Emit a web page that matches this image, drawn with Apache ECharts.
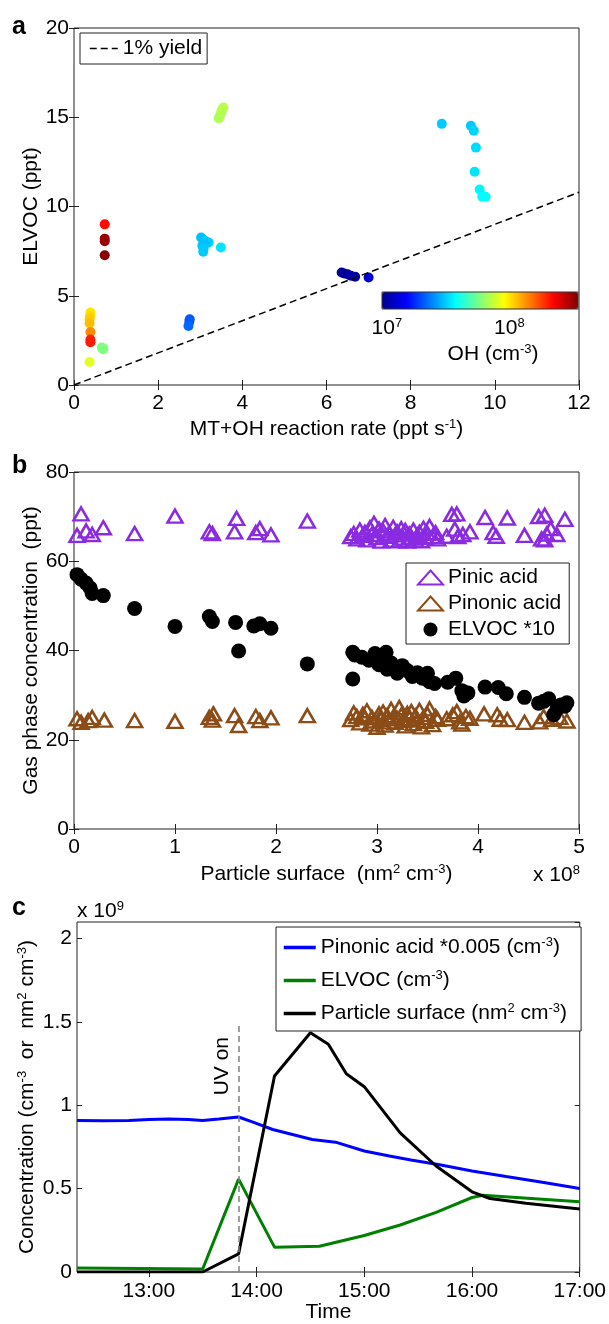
<!DOCTYPE html>
<html>
<head>
<meta charset="utf-8">
<style>
  html, body { margin: 0; padding: 0; background: #fff; }
  #chart { width: 609px; height: 1324px; }
</style>
<script src="https://cdn.jsdelivr.net/npm/echarts@6/dist/echarts.min.js"></script>
</head>
<body>
<div id="chart"></div>
<script>
// Panel a: ELVOC vs MT+OH reaction rate, coloured by OH
const rateX = [0.39, 0.38, 0.37, 0.37, 0.39, 0.39, 0.39, 0.37,
  0.66, 0.69, 0.70,
  0.73, 0.73, 0.73, 0.73,
  2.75, 2.74, 2.72,
  3.02, 3.07, 3.12, 3.20, 3.10, 3.05, 3.08, 3.07, 3.49,
  3.44, 3.47, 3.50, 3.53, 3.55,
  6.36, 6.42, 6.50, 6.58, 6.68, 7.00,
  8.74, 9.43, 9.50, 9.55, 9.52, 9.64, 9.70, 9.78];
const elvocA = [4.06, 3.85, 3.68, 3.46, 2.97, 2.55, 2.40, 1.29,
  2.10, 2.00, 2.05,
  9.00, 8.20, 8.05, 7.27,
  3.68, 3.55, 3.31,
  8.26, 8.15, 8.07, 7.98, 7.90, 7.80, 7.65, 7.46, 7.70,
  14.95, 15.10, 15.30, 15.45, 15.55,
  6.30, 6.25, 6.20, 6.12, 6.07, 6.02,
  14.63, 14.52, 14.25, 13.30, 11.95, 10.95, 10.55, 10.55];
const ohA = [1.0e8, 1.05e8, 1.1e8, 1.15e8, 1.4e8, 2.0e8, 2.1e8, 8.2e7,
  5.6e7, 5.6e7, 5.8e7,
  2.2e8, 3.3e8, 3.3e8, 3.5e8,
  2.0e7, 2.0e7, 2.1e7,
  2.9e7, 2.9e7, 3.0e7, 3.0e7, 2.9e7, 2.9e7, 3.0e7, 3.0e7, 3.3e7,
  6.8e7, 6.8e7, 6.8e7, 7.0e7, 7.0e7,
  9.5e6, 9.5e6, 9.6e6, 9.8e6, 1.0e7, 1.2e7,
  3.0e7, 3.0e7, 3.1e7, 3.2e7, 3.3e7, 3.5e7, 3.6e7, 3.6e7];
const yieldX = [0, 12];
const yieldY = [0, 10.8];
const ohLogRange = [6.96, 8.56];
const ohTicks = [7, 8];

// Panel b: gas phase concentration vs particle surface (x 1e8)
const pinicX = [0.03, 0.07, 0.12, 0.18, 0.29, 0.60, 1.00, 1.34, 1.37, 1.61, 1.59, 1.80, 1.84, 1.95, 2.31,
  2.74, 2.77, 2.80, 2.83, 2.86, 2.88, 2.90, 2.93, 2.95, 2.97, 3.00, 3.02, 3.04, 3.06, 3.08, 3.10,
  3.12, 3.14, 3.16, 3.18, 3.20, 3.22, 3.24, 3.26, 3.28, 3.30, 3.32, 3.34, 3.36, 3.38, 3.40, 3.42,
  3.44, 3.46, 3.48, 3.50, 3.52, 3.55, 3.58, 3.60,
  3.69, 3.74, 3.79, 3.77, 3.80, 3.85, 3.92, 4.07, 4.15, 4.18, 4.29, 4.46, 4.60, 4.66, 4.63, 4.66,
  4.68, 4.72, 4.78, 4.86];
const pinicY = [65.8, 70.6, 66.8, 66.0, 67.5, 66.2, 70.1, 66.6, 66.2, 69.6, 66.6, 66.4, 67.3, 65.9, 69.0,
  65.5, 66.2, 65.0, 67.0, 65.8, 66.5, 64.8, 67.5, 66.0, 68.5, 65.3, 67.2, 64.5, 66.8, 68.0, 65.6,
  66.3, 64.7, 67.6, 65.9, 66.6, 64.6, 67.3, 65.2, 66.9, 64.5, 66.1, 65.4, 67.0, 64.8, 65.8, 66.5,
  64.6, 67.4, 65.3, 66.2, 67.8, 65.5, 66.4, 65.0,
  65.6, 70.5, 70.6, 67.2, 65.5, 66.0, 66.6, 69.8, 66.4, 65.6, 69.7, 65.8, 70.0, 70.3, 65.0, 64.8,
  66.1, 67.3, 66.0, 69.4];
const pinonicX = [0.03, 0.07, 0.14, 0.18, 0.30, 0.60, 1.00, 1.34, 1.38, 1.37, 1.59, 1.63, 1.80, 1.84, 1.95, 2.31,
  2.74, 2.77, 2.80, 2.83, 2.86, 2.88, 2.90, 2.93, 2.95, 2.97, 3.00, 3.02, 3.04, 3.06, 3.08, 3.10,
  3.12, 3.14, 3.16, 3.18, 3.20, 3.22, 3.24, 3.26, 3.28, 3.30, 3.32, 3.34, 3.36, 3.38, 3.40, 3.42,
  3.44, 3.46, 3.48, 3.50, 3.52, 3.55, 3.58, 3.60,
  3.69, 3.75, 3.79, 3.82, 3.84, 3.88, 3.92, 4.06, 4.19, 4.22, 4.29, 4.46, 4.61, 4.65, 4.73, 4.81, 4.88];
const pinonicY = [24.7, 23.9, 24.3, 25.0, 24.4, 24.3, 24.1, 25.0, 25.8, 24.4, 25.4, 23.2, 25.2, 24.3, 24.9, 25.4,
  24.5, 26.0, 25.2, 23.8, 25.7, 24.9, 26.5, 23.5, 25.0, 24.2, 22.8, 25.8, 24.6, 26.2, 23.3, 25.4,
  24.0, 26.8, 25.1, 23.9, 24.7, 27.2, 25.5, 24.3, 23.1, 25.9, 24.8, 26.3, 23.6, 25.3, 24.4, 26.6,
  22.9, 25.0, 24.1, 25.7, 26.9, 23.4, 25.2, 24.6,
  24.7, 25.6, 26.3, 24.0, 23.5, 25.2, 24.8, 25.8, 25.6, 24.6, 24.5, 23.9, 24.0, 25.2, 24.6, 25.0, 24.2];
const elvocBX = [0.03, 0.07, 0.12, 0.16, 0.18, 0.29, 0.60, 1.00, 1.34, 1.37, 1.60, 1.63, 1.78, 1.84, 1.95, 2.31,
  2.76, 2.78, 2.76, 2.85, 2.92, 2.98, 3.02, 3.06, 3.09, 3.10, 3.14, 3.18, 3.20, 3.25, 3.30, 3.35,
  3.40, 3.45, 3.50, 3.52, 3.57, 3.70, 3.78, 3.84, 3.86, 3.90, 4.07, 4.20, 4.28, 4.46, 4.60, 4.65,
  4.70, 4.75, 4.78, 4.82, 4.86, 4.88];
const elvocBY = [57.0, 56.0, 55.1, 54.0, 52.8, 52.3, 49.4, 45.4, 47.6, 46.5, 46.3, 39.9, 45.5, 46.0, 45.0, 37.0,
  39.6, 39.0, 33.6, 38.5, 37.8, 39.3, 36.8, 38.8, 39.6, 35.8, 37.2, 36.2, 34.9, 36.6, 35.5, 34.2,
  35.0, 33.8, 34.9, 33.0, 32.6, 32.9, 33.8, 31.0, 29.8, 30.5, 31.8, 31.7, 30.3, 29.5, 28.2, 28.6,
  29.2, 25.6, 26.8, 27.8, 27.5, 28.3];

// Panel c: time series (x 1e9)
const timeBlue = ['12:20', '12:34', '12:49', '13:00', '13:11', '13:22', '13:30', '13:39', '13:50', '13:58', '14:09',
  '14:20', '14:31', '14:44', '15:00', '15:14', '15:26', '15:42', '16:00', '16:19', '16:40', '17:00'];
const pinonicC = [0.909, 0.907, 0.909, 0.915, 0.918, 0.915, 0.909, 0.918, 0.930, 0.899, 0.855,
  0.825, 0.795, 0.779, 0.726, 0.696, 0.672, 0.644, 0.606, 0.573, 0.537, 0.501];
const timeGreen = ['12:20', '13:30', '13:50', '14:10', '14:35', '15:00', '15:20', '15:40', '16:00', '16:06', '17:00'];
const elvocC = [0.024, 0.018, 0.557, 0.149, 0.155, 0.219, 0.282, 0.358, 0.447, 0.461, 0.421];
const timeBlack = ['12:20', '13:30', '13:50', '14:10', '14:30', '14:40', '14:50', '15:00', '15:20', '15:40',
  '16:00', '16:10', '16:30', '17:00'];
const surfaceC = [0.0, 0.0, 0.109, 1.176, 1.435, 1.367, 1.19, 1.112, 0.835, 0.636, 0.481, 0.441, 0.413, 0.378];
const uvOnTime = '13:50';
const uvLineTop = 1.5;
const hourTicks = [13, 14, 15, 16, 17];

const FONT = '"Liberation Sans", Arial, sans-serif';
const AX = '#222';
const JET = ['#00008f', '#0000ff', '#0080ff', '#00ffff', '#80ff80', '#ffff00', '#ff8000', '#ff0000', '#800000'];
const SUP = { fontSize: 13, fontWeight: 'normal', padding: [0, 0, 10, 0], fontFamily: FONT, color: '#000' };
const NORM = { fontSize: 21, fontWeight: 'normal', fontFamily: FONT, color: '#000' };

function hours(t) {
  const p = t.split(':');
  return Number(p[0]) + Number(p[1]) / 60;
}
function zip(xs, ys) {
  return xs.map((x, i) => [x, ys[i]]);
}

const tick = { show: true, inside: true, length: 5, lineStyle: { color: AX, width: 1 } };
const label = { fontSize: 21, color: '#000', fontFamily: FONT };

function xPair(grid, base) {
  const bottom = Object.assign({
    type: 'value', gridIndex: grid, position: 'bottom',
    axisLine: { show: false }, axisTick: tick, splitLine: { show: false },
    axisLabel: Object.assign({ margin: 8 }, label),
    nameLocation: 'middle', nameMoveOverlap: false,
    nameTextStyle: { fontSize: 21, color: '#000', fontFamily: FONT, rich: { s: SUP } },
  }, base);
  const top = {
    type: 'value', gridIndex: grid, position: 'top', min: base.min, max: base.max, interval: base.interval,
    axisLine: { show: false }, axisTick: Object.assign({}, tick, base.axisTick ? { customValues: base.axisTick.customValues } : {}),
    axisLabel: { show: false }, splitLine: { show: false },
  };
  return [bottom, top];
}
function yPair(grid, base) {
  const left = Object.assign({
    type: 'value', gridIndex: grid, position: 'left',
    axisLine: { show: false }, axisTick: tick, splitLine: { show: false },
    axisLabel: Object.assign({ margin: 5 }, label),
    nameLocation: 'middle', nameRotate: 90, nameMoveOverlap: false,
    nameTextStyle: { fontSize: 21, color: '#000', fontFamily: FONT, rich: { s: SUP } },
  }, base);
  const right = {
    type: 'value', gridIndex: grid, position: 'right', min: base.min, max: base.max, interval: base.interval,
    axisLine: { show: false }, axisTick: tick, axisLabel: { show: false }, splitLine: { show: false },
  };
  return [left, right];
}

const gridStyle = { show: true, borderColor: AX, borderWidth: 1, backgroundColor: 'transparent' };

const xAxes = [].concat(
  xPair(0, { min: 0, max: 12, interval: 2, name: 'MT+OH reaction rate (ppt s{s|-1})', nameGap: 33 }),
  xPair(1, { min: 0, max: 5, interval: 1, name: 'Particle surface  (nm{s|2} cm{s|-3})', nameGap: 34 }),
  xPair(2, {
    min: hours('12:20'), max: 17, name: 'Time', nameGap: 30,
    axisLabel: Object.assign({ margin: 9, customValues: hourTicks, formatter: v => Math.round(v) + ':00' }, label),
    axisTick: Object.assign({}, tick, { customValues: hourTicks }),
  }),
  [{
    type: 'value', gridIndex: 3, position: 'bottom', min: ohLogRange[0], max: ohLogRange[1],
    axisLine: { show: false }, splitLine: { show: false },
    axisTick: Object.assign({}, tick, { customValues: ohTicks, length: 4 }),
    axisLabel: {
      customValues: ohTicks, margin: 8, fontSize: 21, color: '#000', fontFamily: FONT,
      formatter: v => '{n|10}{s|' + v + '}', rich: { n: NORM, s: SUP },
    },
    name: 'OH (cm{s|-3})', nameLocation: 'middle', nameGap: 34, nameMoveOverlap: false,
    nameTextStyle: { fontSize: 21, color: '#000', fontFamily: FONT, padding: [0, 0, 0, 26], rich: { s: SUP } },
  }]
);

const yAxes = [].concat(
  yPair(0, { min: 0, max: 20, interval: 5, name: 'ELVOC (ppt)', nameGap: 32 }),
  yPair(1, { min: 0, max: 80, interval: 20, name: 'Gas phase concentration  (ppt)', nameGap: 32 }),
  yPair(2, { min: 0, max: 2.1, interval: 0.5, name: 'Concentration (cm{s|-3}  or  nm{s|2} cm{s|-3})', nameGap: 38 }),
  [{ type: 'value', gridIndex: 3, show: false, min: 0, max: 1 }]
);

const option = {
  animation: false,
  backgroundColor: '#fff',
  textStyle: { fontFamily: FONT },
  title: [
    { text: 'a', left: 12, top: 15, padding: 0, textStyle: { fontSize: 25, fontWeight: 'bold', color: '#000', fontFamily: FONT } },
    { text: 'b', left: 12, top: 454, padding: 0, textStyle: { fontSize: 25, fontWeight: 'bold', color: '#000', fontFamily: FONT } },
    { text: 'c', left: 12, top: 896, padding: 0, textStyle: { fontSize: 25, fontWeight: 'bold', color: '#000', fontFamily: FONT } },
    { text: '{n|x 10}{s|8}', left: 533, top: 864, padding: 0,
      textStyle: { fontWeight: 'normal', rich: { n: NORM, s: SUP } } },
    { text: '{n|x 10}{s|9}', left: 77, top: 900, padding: 0,
      textStyle: { fontWeight: 'normal', rich: { n: NORM, s: SUP } } },
  ],
  grid: [
    Object.assign({ left: 74, top: 28, width: 505, height: 357 }, gridStyle),
    Object.assign({ left: 74, top: 472, width: 505, height: 357 }, gridStyle),
    Object.assign({ left: 77, top: 922, width: 503, height: 356 }, gridStyle),
    Object.assign({ left: 382, top: 292, width: 196, height: 17, z: 10 }, gridStyle, { borderColor: '#333' }),
  ],
  xAxis: xAxes,
  yAxis: yAxes,
  legend: [
    {
      data: ['1% yield'], left: 80, top: 33, orient: 'vertical',
      padding: [5, 5, 5, 9], itemWidth: 28, itemHeight: 14,
      itemStyle: { opacity: 0 }, lineStyle: { width: 1.5 },
      borderColor: AX, borderWidth: 1, backgroundColor: '#fff',
      textStyle: { fontSize: 21, color: '#000', fontFamily: FONT },
    },
    {
      data: ['Pinic acid', 'Pinonic acid', 'ELVOC *10'], left: 406, top: 563, orient: 'vertical',
      padding: [4, 8, 4, 11], itemWidth: 25, itemHeight: 14, itemGap: 5,
      borderColor: AX, borderWidth: 1, backgroundColor: '#fff',
      textStyle: { fontSize: 21, color: '#000', fontFamily: FONT },
    },
    {
      data: ['Pinonic acid *0.005 (cm-3)', 'ELVOC (cm-3)', 'Particle surface (nm2 cm-3)'],
      left: 276, top: 927, orient: 'vertical',
      padding: [9, 14, 7, 6], itemWidth: 32, itemHeight: 14, itemGap: 11,
      itemStyle: { opacity: 0 }, lineStyle: { width: 3.5 },
      borderColor: AX, borderWidth: 1, backgroundColor: '#fff',
      formatter: function (name) {
        return name.replace('cm-3', 'cm{s|-3}').replace('nm2', 'nm{s|2}');
      },
      textStyle: { fontSize: 21, color: '#000', fontFamily: FONT, rich: { s: SUP } },
    },
  ],
  visualMap: {
    type: 'continuous', seriesIndex: 1, dimension: 2,
    min: ohLogRange[0], max: ohLogRange[1],
    orient: 'horizontal', left: 382, top: 292, itemWidth: 17, itemHeight: 196,
    calculable: false, hoverLink: false, padding: 0, text: null,
    inRange: { color: JET },
  },
  series: [
    {
      name: '1% yield', type: 'line', xAxisIndex: 0, yAxisIndex: 0,
      data: zip(yieldX, yieldY), symbol: 'none', silent: true,
      lineStyle: { color: '#000', width: 1.5, type: [7, 4] },
      itemStyle: { color: '#000' },
    },
    {
      name: 'ELVOC', type: 'scatter', xAxisIndex: 0, yAxisIndex: 0,
      symbolSize: 10, itemStyle: { opacity: 1 },
      data: rateX.map((x, i) => [x, elvocA[i], Math.log10(ohA[i])]),
    },
    {
      name: 'Pinic acid', type: 'scatter', xAxisIndex: 2, yAxisIndex: 2,
      symbol: 'triangle', symbolSize: [15, 13],
      itemStyle: { color: 'rgba(0,0,0,0)', borderColor: '#8a2be2', borderWidth: 2.5, opacity: 1 },
      data: zip(pinicX, pinicY),
    },
    {
      name: 'Pinonic acid', type: 'scatter', xAxisIndex: 2, yAxisIndex: 2,
      symbol: 'triangle', symbolSize: [15, 13],
      itemStyle: { color: 'rgba(0,0,0,0)', borderColor: '#8b4c17', borderWidth: 2.5, opacity: 1 },
      data: zip(pinonicX, pinonicY),
    },
    {
      name: 'ELVOC *10', type: 'scatter', xAxisIndex: 2, yAxisIndex: 2,
      symbol: 'circle', symbolSize: 15,
      itemStyle: { color: '#000', opacity: 1 },
      data: zip(elvocBX, elvocBY),
    },
    {
      name: 'Pinonic acid *0.005 (cm-3)', type: 'line', xAxisIndex: 4, yAxisIndex: 4,
      symbol: 'none', lineStyle: { color: '#0000ff', width: 3 }, itemStyle: { color: '#0000ff' },
      data: zip(timeBlue.map(hours), pinonicC),
      markLine: {
        silent: true, symbol: 'none',
        lineStyle: { color: '#808080', width: 1.5, type: [6, 4] },
        label: { show: true, formatter: 'UV on', position: 'insideEndTop', distance: [15, 6],
          fontSize: 21, color: '#000', fontFamily: FONT },
        data: [[{ coord: [hours(uvOnTime), 0] }, { coord: [hours(uvOnTime), uvLineTop] }]],
      },
    },
    {
      name: 'ELVOC (cm-3)', type: 'line', xAxisIndex: 4, yAxisIndex: 4,
      symbol: 'none', lineStyle: { color: '#008000', width: 3 }, itemStyle: { color: '#008000' },
      data: zip(timeGreen.map(hours), elvocC),
    },
    {
      name: 'Particle surface (nm2 cm-3)', type: 'line', xAxisIndex: 4, yAxisIndex: 4,
      symbol: 'none', lineStyle: { color: '#000', width: 3 }, itemStyle: { color: '#000' },
      data: zip(timeBlack.map(hours), surfaceC),
    },
  ],
};

const chart = echarts.init(document.getElementById('chart'));
chart.setOption(option);
window.addEventListener('resize', function () {
  chart.resize();
});
</script>
</body>
</html>
